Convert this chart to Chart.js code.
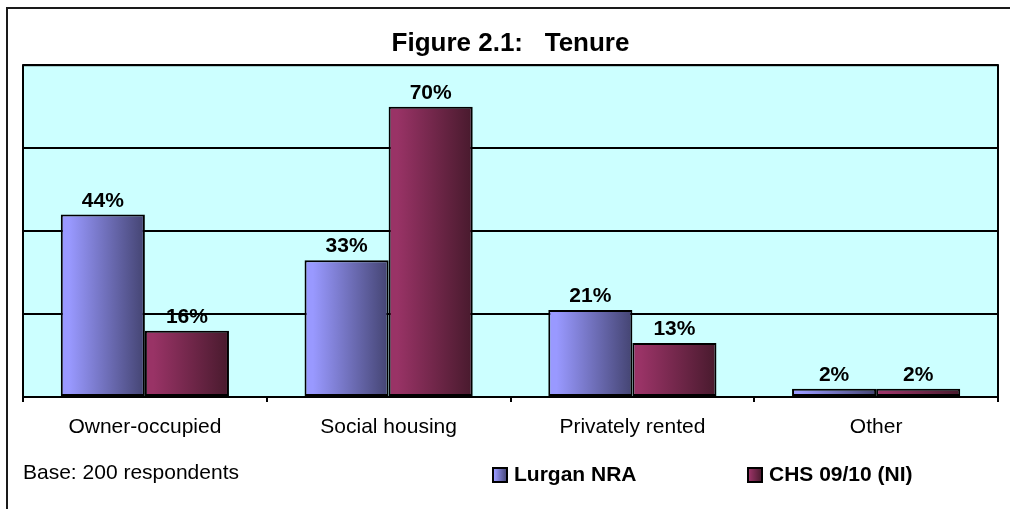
<!DOCTYPE html>
<html>
<head>
<meta charset="utf-8">
<script src="https://cdn.jsdelivr.net/npm/chart.js@4.4.1/dist/chart.umd.min.js"></script>
<style>
  html, body { margin: 0; padding: 0; background: #fff; }
  #wrap { width: 1010px; height: 509px; }
</style>
</head>
<body>
<div id="wrap"><canvas id="chart" width="1010" height="509"></canvas></div>
<script>
const categories = ['Owner-occupied', 'Social housing', 'Privately rented', 'Other'];
const lurganNRA = [44, 33, 21, 2];
const chsNI = [16, 70, 13, 2];
const seriesNames = ['Lurgan NRA', 'CHS 09/10 (NI)'];
const yTicks = [0, 20, 40, 60, 80];
const baseNote = 'Base: 200 respondents';

// left (light) and right (dark) end of each bar's gradient
const shades = [
  ['#9999ff', '#444472'],
  ['#993366', '#481a2d']
];

function barGradient(ctx, x0, x1, pair) {
  const g = ctx.createLinearGradient(x0, 0, x1, 0);
  g.addColorStop(0, pair[0]);
  g.addColorStop(0.1, pair[0]);
  g.addColorStop(1, pair[1]);
  return g;
}

const decor = {
  id: 'decor',
  beforeDraw(chart) {
    const { ctx, chartArea: a } = chart;
    ctx.save();
    ctx.fillStyle = '#fff';
    ctx.fillRect(0, 0, chart.width, chart.height);
    // outer frame of the figure
    ctx.strokeStyle = '#1a1a1a';
    ctx.lineWidth = 2;
    ctx.beginPath();
    ctx.moveTo(7, chart.height);
    ctx.lineTo(7, 8);
    ctx.lineTo(chart.width, 8);
    ctx.stroke();
    ctx.fillStyle = '#ccffff';
    ctx.fillRect(a.left, a.top, a.right - a.left, a.bottom - a.top);
    ctx.restore();
  },
  beforeDatasetsDraw(chart) {
    chart.data.datasets.forEach((ds, i) => {
      chart.getDatasetMeta(i).data.forEach(el => {
        const { x, width } = el.getProps(['x', 'width'], true);
        const g = barGradient(chart.ctx, x - width / 2, x + width / 2, shades[i]);
        el.options = Object.assign({}, el.options, { backgroundColor: g, borderColor: '#000' });
      });
    });
  },
  afterDatasetsDraw(chart) {
    const { ctx } = chart;
    ctx.save();
    ctx.fillStyle = '#000';
    ctx.font = 'bold 21px Arial, "Liberation Sans", sans-serif';
    ctx.textAlign = 'center';
    ctx.textBaseline = 'alphabetic';
    chart.data.datasets.forEach((ds, i) => {
      chart.getDatasetMeta(i).data.forEach((el, j) => {
        ctx.fillText(ds.data[j] + '%', el.x, el.y - 8);
      });
    });
    ctx.restore();
  },
  afterDraw(chart) {
    const { ctx, chartArea: a } = chart;
    ctx.save();
    ctx.strokeStyle = '#000';
    ctx.lineWidth = 2;
    ctx.strokeRect(a.left, a.top, a.right - a.left, a.bottom - a.top);

    ctx.fillStyle = '#000';
    ctx.textBaseline = 'middle';
    ctx.textAlign = 'left';
    ctx.font = '21px Arial, "Liberation Sans", sans-serif';
    ctx.fillText(baseNote, a.left, 473);

    // legend
    const boxX = [493, 748];
    ctx.font = 'bold 21px Arial, "Liberation Sans", sans-serif';
    seriesNames.forEach((name, i) => {
      const bx = boxX[i];
      ctx.fillStyle = barGradient(ctx, bx, bx + 14, shades[i]);
      ctx.fillRect(bx, 468, 14, 14);
      ctx.lineWidth = 2;
      ctx.strokeStyle = '#000';
      ctx.strokeRect(bx, 468, 14, 14);
      ctx.fillStyle = '#000';
      ctx.fillText(name, bx + 21, 475);
    });
    ctx.restore();
  }
};

new Chart(document.getElementById('chart'), {
  type: 'bar',
  data: {
    labels: categories,
    datasets: [
      { label: seriesNames[0], data: lurganNRA, backgroundColor: shades[0][0], borderColor: '#000' },
      { label: seriesNames[1], data: chsNI, backgroundColor: shades[1][0], borderColor: '#000' }
    ]
  },
  options: {
    responsive: false,
    animation: false,
    events: [],
    layout: { padding: { left: 23, right: 12, top: 0, bottom: 62 } },
    datasets: {
      bar: {
        categoryPercentage: 0.69,
        barPercentage: 1.0,
        borderWidth: 2,
        borderSkipped: false
      }
    },
    plugins: {
      colors: { enabled: false },
      legend: { display: false },
      tooltip: { enabled: false },
      title: {
        display: true,
        text: 'Figure 2.1:   Tenure',
        color: '#000',
        font: { family: 'Arial, "Liberation Sans", sans-serif', size: 26, weight: 'bold' },
        padding: { top: 28, bottom: 6 }
      }
    },
    scales: {
      x: {
        offset: true,
        grid: { drawOnChartArea: false, drawTicks: true, tickLength: 5, color: '#000', lineWidth: 2 },
        border: { display: false },
        ticks: {
          color: '#000',
          padding: 13,
          font: { family: 'Arial, "Liberation Sans", sans-serif', size: 21 }
        },
        afterFit(scale) { scale.height = 50; }
      },
      y: {
        min: yTicks[0],
        max: yTicks[yTicks.length - 1],
        afterBuildTicks(scale) { scale.ticks = yTicks.map(v => ({ value: v })); },
        grid: { color: '#000', lineWidth: 2, drawTicks: false },
        border: { display: false },
        ticks: { display: false },
        afterFit(scale) { scale.width = 0; }
      }
    }
  },
  plugins: [decor]
});
</script>
</body>
</html>
